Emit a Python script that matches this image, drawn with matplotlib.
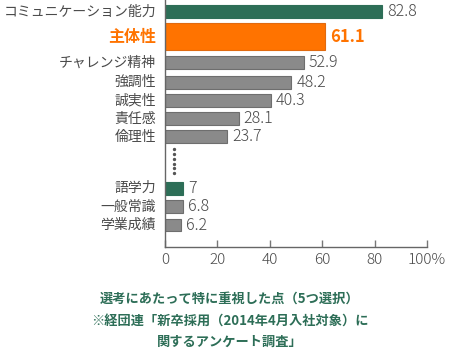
import numpy as np
import matplotlib
matplotlib.use('Agg')
from matplotlib import pyplot as plt

plt.rcParams['font.family'] = ['Noto Sans CJK JP', 'DejaVu Sans']

# --- Data ---
categories = ['コミュニケーション能力', '主体性', 'チャレンジ精神', '強調性', '誠実性',
              '責任感', '倫理性', '語学力', '一般常識', '学業成績']
values = [82.8, 61.1, 52.9, 48.2, 40.3, 28.1, 23.7, 7, 6.8, 6.2]
value_labels = ['82.8', '61.1', '52.9', '48.2', '40.3', '28.1', '23.7', '7', '6.8', '6.2']
x_ticks = [0, 20, 40, 60, 80, 100]
x_tick_labels = ['0', '20', '40', '60', '80', '100%']
caption = ['選考にあたって特に重視した点（5つ選択）',
           '※経団連「新卒採用（2014年4月入社対象）に',
           '関するアンケート調査」']

# --- Layout (y in pixel-like units from top) ---
y_pos = [11.5, 36.7, 62.7, 82.3, 100.5, 118.5, 136.7, 188.3, 206.7, 225]
heights = [12.5, 26.5, 13, 13, 13, 13, 13, 12.5, 12.5, 12.5]

green = '#2d6e57'
orange = '#ff7300'
gray = '#8a8a8a'
text_gray = '#4a4a4a'

bar_colors = [green, orange] + [gray] * 5 + [green, gray, gray]
edge_colors = [green, '#e06a10'] + ['#6e6e6e'] * 5 + [green, '#6e6e6e', '#6e6e6e']

fig = plt.figure(figsize=(4.6, 3.59), dpi=100)
ax = fig.add_axes([165 / 460, (359 - 247) / 359, 262 / 460, 247 / 359])

ax.barh(y_pos, values, height=heights, color=bar_colors, edgecolor=edge_colors,
        linewidth=0.8, align='center')

# value labels and category labels
for i, (yy, v, lab, cat) in enumerate(zip(y_pos, values, value_labels, categories)):
    if i == 1:
        ax.text(v + 2.1, yy, lab, va='center', ha='left', fontsize=12,
                color=orange, fontweight='bold')
        ax.text(-3.4, yy, cat, va='center', ha='right', fontsize=11.5,
                color=orange, fontweight='bold')
    else:
        ax.text(v + 1.9, yy, lab, va='center', ha='left', fontsize=11.5,
                color=text_gray, fontweight='light')
        ax.text(-3.4, yy, cat, va='center', ha='right', fontsize=10,
                color=text_gray)

# dotted gap marker
dot_y = np.linspace(149, 173.3, 6)
ax.plot([3.4] * len(dot_y), dot_y, linestyle='none', marker='o', markersize=1.4,
        color='#555555')

ax.set_xlim(0, 100)
ax.set_ylim(247, 0)
ax.set_yticks([])
ax.set_xticks(x_ticks)
ax.set_xticklabels(x_tick_labels, fontsize=11, color=text_gray, fontweight='light')
ax.tick_params(axis='x', direction='in', length=5, width=1, color='#777777', pad=4)

for s in ['top', 'right']:
    ax.spines[s].set_visible(False)
for s in ['left', 'bottom']:
    ax.spines[s].set_color('#666666')
    ax.spines[s].set_linewidth(1)

# --- Caption ---
for line, yy in zip(caption, [298.5, 320.5, 341.5]):
    fig.text(230 / 460, 1 - yy / 359, line, ha='center', va='center',
             fontsize=9.5, fontweight='bold', color=green)

fig.savefig('out.png', dpi=100)
